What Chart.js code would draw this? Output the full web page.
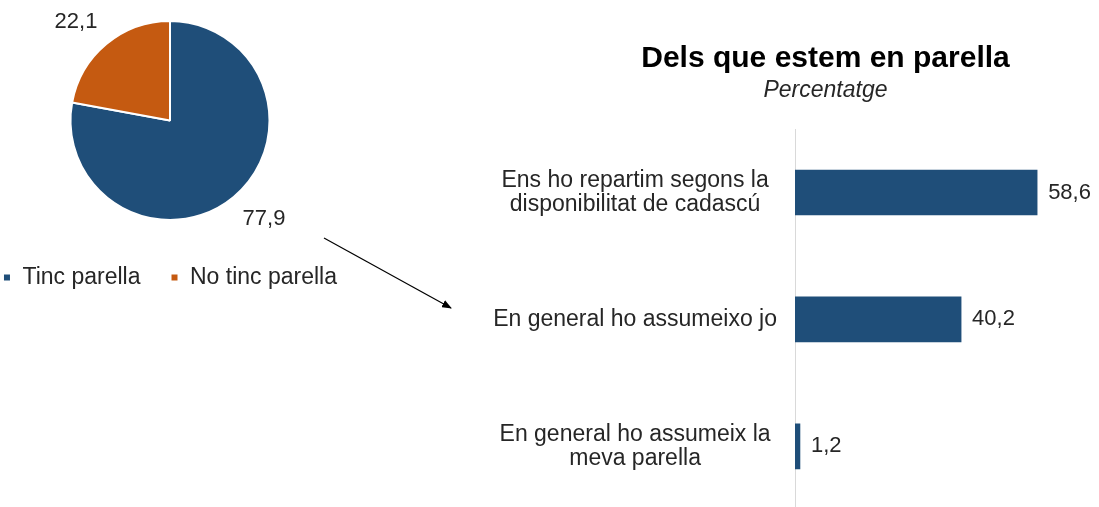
<!DOCTYPE html>
<html>
<head>
<meta charset="utf-8">
<script src="https://cdn.jsdelivr.net/npm/chart.js@4.4.1/dist/chart.umd.min.js"></script>
<style>
    html, body { margin: 0; padding: 0; background: #fff; overflow: hidden; width: 1099px; height: 507px; }
    #pie_chart { position: absolute; left: -35px; top: 0; }
    #bar_chart { position: absolute; left: 480px; top: 0; }
    #arrow { position: absolute; left: 0; top: 0; pointer-events: none; }
</style>
</head>
<body>
<canvas id="pie_chart" width="410" height="299"></canvas>
<canvas id="bar_chart" width="696" height="552"></canvas>
<svg id="arrow" width="1099" height="507">
    <defs>
        <marker id="head" markerWidth="10" markerHeight="8" refX="9" refY="4" orient="auto" markerUnits="userSpaceOnUse">
            <polygon points="0,0 10,4 0,8" fill="#000"/>
        </marker>
    </defs>
    <line x1="324" y1="238" x2="451" y2="308" stroke="#000" stroke-width="1.2" marker-end="url(#head)"/>
</svg>
<script>
const pieLabels = ['Tinc parella', 'No tinc parella'];
const pieValues = [77.9, 22.1];
const pieColors = ['#1F4E79', '#C55A11'];

const barLabels = [
    ['Ens ho repartim segons la', 'disponibilitat de cadascú'],
    'En general ho assumeixo jo',
    ['En general ho assumeix la', 'meva parella']
];
const barValues = [58.6, 40.2, 1.2];

const FONT = "'Liberation Sans', Arial, sans-serif";
const TEXT = '#262626';
Chart.defaults.font.family = FONT;
Chart.defaults.color = TEXT;

const fmt = v => v.toFixed(1).replace('.', ',');

// etiquetes del pastís, fora de cada porció
const pieLabelPlugin = {
    id: 'pieLabels',
    afterDatasetsDraw(chart) {
        const ctx = chart.ctx;
        const meta = chart.getDatasetMeta(0);
        ctx.save();
        ctx.font = '22px ' + FONT;
        ctx.fillStyle = TEXT;
        meta.data.forEach((arc, i) => {
            const p = arc.getProps(['x', 'y', 'startAngle', 'endAngle', 'outerRadius']);
            const mid = (p.startAngle + p.endAngle) / 2;
            const r = p.outerRadius + 14;
            const c = Math.cos(mid), s = Math.sin(mid);
            ctx.textAlign = c > 0 ? 'left' : 'right';
            ctx.textBaseline = s > 0 ? 'top' : 'bottom';
            ctx.fillText(fmt(chart.data.datasets[0].data[i]), p.x + c * r, p.y + s * r);
        });
        ctx.restore();
    }
};

// valors al final de cada barra
const barLabelPlugin = {
    id: 'barLabels',
    afterDatasetsDraw(chart) {
        const ctx = chart.ctx;
        const meta = chart.getDatasetMeta(0);
        ctx.save();
        ctx.font = '22px ' + FONT;
        ctx.fillStyle = TEXT;
        ctx.textAlign = 'left';
        ctx.textBaseline = 'middle';
        meta.data.forEach((bar, i) => {
            ctx.fillText(fmt(chart.data.datasets[0].data[i]), bar.x + 11, bar.y);
        });
        ctx.restore();
    }
};

new Chart(document.getElementById('pie_chart'), {
    type: 'pie',
    data: {
        labels: pieLabels,
        datasets: [{
            data: pieValues,
            backgroundColor: pieColors,
            borderColor: '#fff',
            borderWidth: 2
        }]
    },
    options: {
        responsive: false,
        animation: false,
        layout: { padding: { top: 20, left: 0, right: 0, bottom: 0 } },
        plugins: {
            tooltip: { enabled: false },
            legend: {
                position: 'bottom',
                title: { display: true, text: '', font: { size: 10 }, padding: { top: 0, bottom: 3 } },
                labels: {
                    boxWidth: 8,
                    boxHeight: 8,
                    padding: 30,
                    color: TEXT,
                    font: { size: 23 }
                }
            }
        }
    },
    plugins: [pieLabelPlugin]
});

new Chart(document.getElementById('bar_chart'), {
    type: 'bar',
    data: {
        labels: barLabels,
        datasets: [{
            data: barValues,
            backgroundColor: '#1F4E79',
            barThickness: 45
        }]
    },
    options: {
        indexAxis: 'y',
        responsive: false,
        animation: false,
        layout: { padding: { top: 0, left: 0, right: 5, bottom: 0 } },
        scales: {
            x: {
                display: false,
                min: 0,
                max: 91
            },
            y: {
                grid: { display: false, drawTicks: false },
                border: { display: true, color: '#d9d9d9', width: 1 },
                ticks: {
                    crossAlign: 'center',
                    padding: 18,
                    color: TEXT,
                    font: { size: 23, lineHeight: 1.05 }
                },
                afterFit(scale) {
                    scale.width = 315;
                }
            }
        },
        plugins: {
            legend: { display: false },
            tooltip: { enabled: false },
            title: {
                display: true,
                text: 'Dels que estem en parella',
                color: '#000',
                font: { size: 30, weight: 'bold' },
                padding: { top: 41, bottom: 0 }
            },
            subtitle: {
                display: true,
                text: 'Percentatge',
                color: TEXT,
                font: { size: 23, style: 'italic' },
                padding: { top: 0, bottom: 24.4 }
            }
        }
    },
    plugins: [barLabelPlugin]
});
</script>
</body>
</html>
